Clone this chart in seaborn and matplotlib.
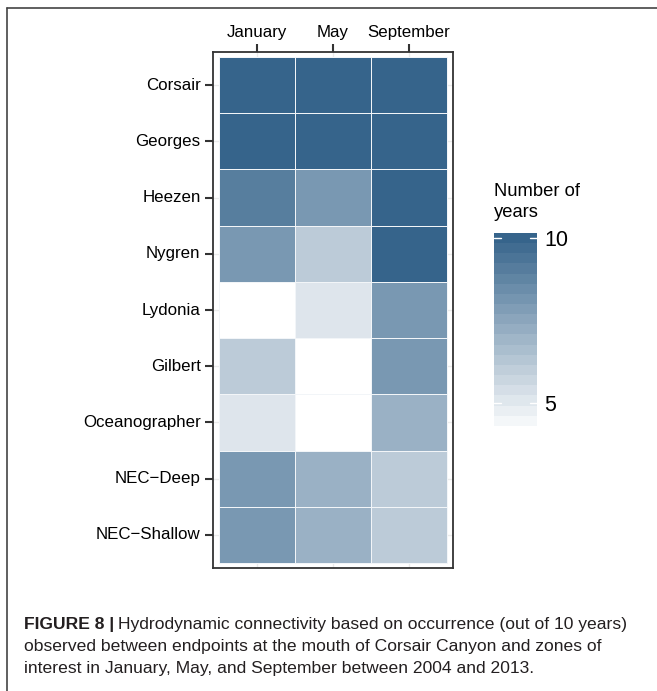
import numpy as np
import pandas as pd
import matplotlib
matplotlib.use("Agg")
import matplotlib.pyplot as plt
import seaborn as sns
from matplotlib.colors import LinearSegmentedColormap, Normalize
from matplotlib.cm import ScalarMappable
from matplotlib.lines import Line2D

# ─── Data ────────────────────────────────────────────────
zones = ["Corsair", "Georges", "Heezen", "Nygren", "Lydonia",
         "Gilbert", "Oceanographer", "NEC\u2212Deep", "NEC\u2212Shallow"]
months = ["January", "May", "September"]
january   = [10, 10, 9, 8, 4, 6, 5, 8, 8]
may       = [10, 10, 8, 6, 5, 4, 4, 7, 7]
september = [10, 10, 10, 10, 8, 8, 7, 6, 6]
cbar_ticks = [5, 10]

df = pd.DataFrame({"January": january, "May": may, "September": september},
                  index=zones)

# ─── Style ────────────────────────────────────────────────
sns.set_theme(style="white")
plt.rcParams["font.family"] = ["Liberation Sans", "DejaVu Sans"]
DARK = "#333333"
LOW, HIGH = "#FFFFFF", "#36648B"
cmap = LinearSegmentedColormap.from_list("years", [LOW, HIGH])
VMIN, VMAX = 4, 10

W, H = 657, 691
fig = plt.figure(figsize=(W / 100, H / 100), dpi=100)
fig.patch.set_facecolor("white")

def box(x0, y0, x1, y1):
    return [x0 / W, 1 - y1 / H, (x1 - x0) / W, (y1 - y0) / H]

ax = fig.add_axes(box(213, 52, 453, 568))
cax = fig.add_axes(box(494, 233, 537, 431))

sns.heatmap(df, ax=ax, cmap=cmap, vmin=VMIN, vmax=VMAX, cbar=False,
            linewidths=0.7, linecolor="#F2F5F8")

# padding around tiles (ggplot-style expansion)
ax.set_xlim(-0.08, 3.08)
ax.set_ylim(9.09, -0.09)
ax.set_axisbelow(True)
ax.grid(True, color="#EBEBEB", lw=1.0)
ax.xaxis.tick_top()
ax.set_xticks(np.arange(3) + 0.5)
ax.set_xticklabels(months, fontsize=12.2, color="black")
ax.set_yticks(np.arange(len(zones)) + 0.5)
ax.set_yticklabels(zones, fontsize=12.2, color="black", rotation=0)
ax.set_xlabel("")
ax.set_ylabel("")
ax.tick_params(axis="both", length=6, width=1.5, color=DARK, pad=3,
               bottom=False, top=True, left=True)
for s in ax.spines.values():
    s.set_visible(True)
    s.set_color(DARK)
    s.set_linewidth(1.3)

# colour bar (binned like ggplot guide), limits 4..10 with small overhang
sm = ScalarMappable(norm=Normalize(VMIN, VMAX + 0.15), cmap=cmap.resampled(20))
cb = fig.colorbar(sm, cax=cax, ticks=cbar_ticks)
cb.outline.set_visible(False)
cb.ax.set_ylim(VMIN + 0.15, VMAX + 0.15)
cb.ax.tick_params(length=0, labelsize=15.5, labelcolor="black", pad=5)
cb.ax.set_yticklabels([str(v) for v in cbar_ticks])
# white inner tick marks on both sides, as in ggplot's colourbar
tr = cax.get_yaxis_transform()
for v in cbar_ticks:
    cax.plot([0, 0.17], [v, v], color="white", lw=1, transform=tr, zorder=5)
    cax.plot([0.83, 1], [v, v], color="white", lw=1, transform=tr, zorder=5)
fig.text(494 / W, 1 - 183 / H, "Number of\nyears", fontsize=13.2,
         color="black", ha="left", va="top", linespacing=1.3)

# outer frame
fig.add_artist(Line2D([7 / W, 7 / W], [0, 1 - 8 / H], transform=fig.transFigure,
                      color="#444444", lw=1.2))
fig.add_artist(Line2D([7 / W, 1], [1 - 8 / H, 1 - 8 / H], transform=fig.transFigure,
                      color="#444444", lw=1.2))

# caption
CAP = "#231F20"
cap_size = 12.6
renderer = fig.canvas.get_renderer()
t = fig.text(24 / W, 1 - 624 / H, "FIGURE 8 |", fontsize=cap_size,
             fontweight="bold", color=CAP, va="center", ha="left")
bb = t.get_window_extent(renderer)
fig.text((bb.x1 + 4) / W, 1 - 624 / H,
         "Hydrodynamic connectivity based on occurrence (out of 10 years)",
         fontsize=cap_size, color=CAP, va="center", ha="left")
fig.text(24 / W, 1 - 646 / H,
         "observed between endpoints at the mouth of Corsair Canyon and zones of",
         fontsize=cap_size, color=CAP, va="center", ha="left")
fig.text(24 / W, 1 - 668 / H,
         "interest in January, May, and September between 2004 and 2013.",
         fontsize=cap_size, color=CAP, va="center", ha="left")

fig.savefig("out.png", dpi=100)
